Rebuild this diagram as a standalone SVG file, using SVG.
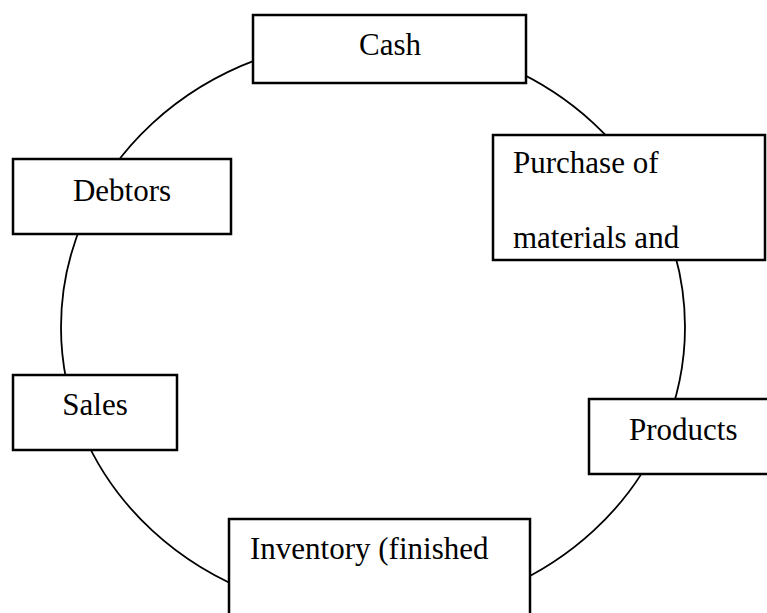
<svg xmlns="http://www.w3.org/2000/svg" width="767" height="613" viewBox="0 0 767 613">
<style>
.box{fill:#fff;stroke:#000;stroke-width:2.5}
.lbl{font-family:"Liberation Serif","Times New Roman",serif;font-size:31px;fill:#000}
.c{text-anchor:middle}
</style>
<rect width="767" height="613" fill="#fff"/>
<g id="connectors">
<ellipse cx="373" cy="327" rx="312" ry="288" fill="none" stroke="#000" stroke-width="1.8"/>
</g>
<g id="cash">
<rect class="box" x="253" y="15" width="273" height="68"/>
<text class="lbl c" x="390" y="55">Cash</text>
</g>
<g id="purchase">
<rect class="box" x="493" y="135" width="272" height="125"/>
<text class="lbl" x="513" y="173">Purchase of</text>
<text class="lbl" x="513" y="248">materials and</text>
</g>
<g id="debtors">
<rect class="box" x="13" y="159" width="218" height="75"/>
<text class="lbl c" x="122" y="201">Debtors</text>
</g>
<g id="sales">
<rect class="box" x="13" y="375" width="164" height="75"/>
<text class="lbl c" x="95" y="415">Sales</text>
</g>
<g id="products">
<rect class="box" x="589" y="399" width="220" height="75"/>
<text class="lbl" x="629" y="440">Products</text>
</g>
<g id="inventory">
<rect class="box" x="229" y="519" width="301" height="110"/>
<text class="lbl" x="250" y="559">Inventory (finished</text>
</g>
</svg>
